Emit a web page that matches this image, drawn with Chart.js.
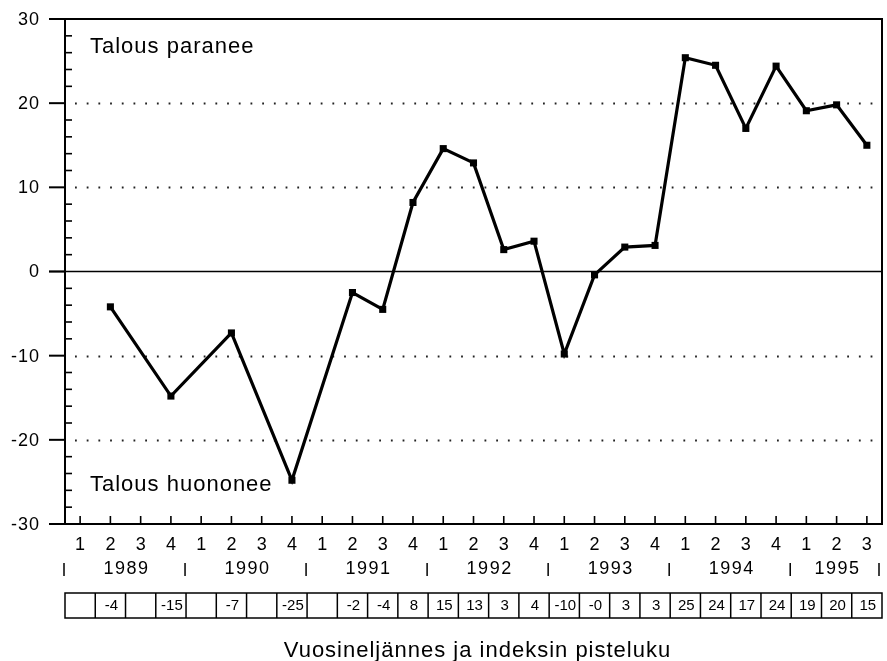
<!DOCTYPE html>
<html>
<head>
<meta charset="utf-8">
<script src="https://cdn.jsdelivr.net/npm/chart.js@4/dist/chart.umd.min.js"></script>
<style>
  html,body{margin:0;padding:0;background:#fff}
  canvas{display:block}
</style>
</head>
<body>
<canvas id="c" width="887" height="661"></canvas>
<script>
// ── data ───────────────────────────────────────────────
const quarters = ['1','2','3','4','1','2','3','4','1','2','3','4','1','2','3','4',
                  '1','2','3','4','1','2','3','4','1','2','3'];
const years = ['1989','1990','1991','1992','1993','1994','1995'];
const indexValues = [null,-4.2,null,-14.8,null,-7.3,null,-24.8,null,-2.5,-4.5,8.2,
                     14.6,12.9,2.6,3.6,-9.8,-0.4,2.9,3.1,25.4,24.5,17.0,24.4,19.1,19.8,15.0];
const tableLabels = ['','-4','','-15','','-7','','-25','','-2','-4','8','15','13','3','4',
                     '-10','-0','3','3','25','24','17','24','19','20','15'];
const yMajor = [-30,-20,-10,0,10,20,30];
const textUp = 'Talous paranee';
const textDown = 'Talous huononee';
const xTitle = 'Vuosineljännes ja indeksin pisteluku';

const FONT = '"Liberation Sans", Arial, Helvetica, sans-serif';

// draws frame, ticks, dotted grid and the year/table rows below
const framePlugin = {
  id:'frame',
  beforeDatasetsDraw(chart){
    const {ctx, chartArea:a, scales:{x,y}} = chart;
    ctx.save();
    ctx.strokeStyle='#000'; ctx.lineCap='butt';

    // dotted grid
    ctx.lineWidth=1.8; ctx.setLineDash([1.8,9.9]); ctx.strokeStyle='#222';
    yMajor.filter(v=>v!==0 && Math.abs(v)<30).forEach(v=>{
      const py=Math.round(y.getPixelForValue(v))+0.5;
      ctx.beginPath(); ctx.moveTo(a.left+10,py); ctx.lineTo(a.right-4,py); ctx.stroke();
    });
    ctx.setLineDash([]); ctx.strokeStyle='#000';

    // zero line
    ctx.lineWidth=1.5;
    const y0=y.getPixelForValue(0);
    ctx.beginPath(); ctx.moveTo(a.left-16,y0); ctx.lineTo(a.right,y0); ctx.stroke();

    // frame
    ctx.lineWidth=2;
    ctx.beginPath();
    ctx.moveTo(a.left-16,a.top); ctx.lineTo(a.right,a.top); ctx.lineTo(a.right,a.bottom);
    ctx.lineTo(a.left-16,a.bottom);
    ctx.moveTo(a.left,a.top); ctx.lineTo(a.left,a.bottom);
    ctx.stroke();

    // major ticks (left) and minor ticks (inside)
    yMajor.forEach(v=>{
      const py=y.getPixelForValue(v);
      ctx.beginPath(); ctx.moveTo(a.left-16,py); ctx.lineTo(a.left,py); ctx.stroke();
    });
    ctx.lineWidth=1.6;
    for(let v=-28; v<30; v+=2){
      if(v%10===0) continue;
      const py=y.getPixelForValue(v);
      ctx.beginPath(); ctx.moveTo(a.left,py); ctx.lineTo(a.left+7,py); ctx.stroke();
    }
    // x ticks
    quarters.forEach((_,i)=>{
      const px=x.getPixelForValue(i);
      ctx.beginPath(); ctx.moveTo(px,a.bottom); ctx.lineTo(px,a.bottom-8); ctx.stroke();
    });
    ctx.restore();
  },
  afterDraw(chart){
    const {ctx, chartArea:a, scales:{x,y}} = chart;
    ctx.save();
    ctx.fillStyle='#000'; ctx.strokeStyle='#000';

    // y labels
    ctx.font='18px '+FONT; ctx.letterSpacing='1px';
    ctx.textAlign='right'; ctx.textBaseline='middle';
    yMajor.forEach(v=>ctx.fillText(String(v), a.left-25, y.getPixelForValue(v)+1));

    // in-plot texts
    ctx.font='22px '+FONT; ctx.letterSpacing='1px'; ctx.textAlign='left';
    ctx.fillText(textUp, a.left+25, 47);
    ctx.fillText(textDown, a.left+25, 485);

    // quarter labels
    ctx.font='18px '+FONT; ctx.letterSpacing='0px'; ctx.textAlign='center';
    quarters.forEach((q,i)=>ctx.fillText(q, x.getPixelForValue(i), 545));

    // year row with separators
    ctx.letterSpacing='1.5px';
    const per=4;
    years.forEach((yr,k)=>{
      const first=k*per, last=Math.min(first+per-1, quarters.length-1);
      const cx=(x.getPixelForValue(first-0.5)+x.getPixelForValue(last+0.5))/2;
      ctx.fillText(yr, cx+1, 569);
    });
    ctx.letterSpacing='0px';
    ctx.lineWidth=1.5;
    for(let b=-0.5; b<quarters.length; b+=per){
      const px=Math.min(x.getPixelForValue(b), a.right-3);
      ctx.beginPath(); ctx.moveTo(px-1,563); ctx.lineTo(px-1,576); ctx.stroke();
    }
    const endPx=x.getPixelForValue(quarters.length-0.5)-3;
    ctx.beginPath(); ctx.moveTo(endPx,563); ctx.lineTo(endPx,576); ctx.stroke();

    // value table
    const tTop=593, tBot=618;
    ctx.lineWidth=1.5;
    ctx.strokeRect(a.left, tTop, a.right-a.left, tBot-tTop);
    for(let i=1;i<tableLabels.length;i++){
      const px=x.getPixelForValue(i-0.5);
      ctx.beginPath(); ctx.moveTo(px,tTop); ctx.lineTo(px,tBot); ctx.stroke();
    }
    ctx.font='15px '+FONT;
    tableLabels.forEach((t,i)=>ctx.fillText(t, x.getPixelForValue(i)+1, 606));

    // axis title
    ctx.font='22px '+FONT; ctx.letterSpacing='1px';
    ctx.fillText(xTitle, (a.left+a.right)/2+4, 651);
    ctx.restore();
  }
};

new Chart(document.getElementById('c'), {
  type:'line',
  data:{
    labels:quarters,
    datasets:[{
      data:indexValues,
      borderColor:'#000', borderWidth:3.2,
      pointStyle:'rect', pointRadius:5,
      pointBackgroundColor:'#000', pointBorderColor:'#000', pointBorderWidth:0,
      spanGaps:true, tension:0, clip:false
    }]
  },
  options:{
    responsive:false, animation:false, devicePixelRatio:1,
    layout:{padding:{left:65, right:1, top:19, bottom:137}},
    plugins:{legend:{display:false}, tooltip:{enabled:false}},
    scales:{
      x:{display:false, offset:true},
      y:{display:false, min:-30, max:30}
    }
  },
  plugins:[framePlugin]
});
</script>
</body>
</html>
